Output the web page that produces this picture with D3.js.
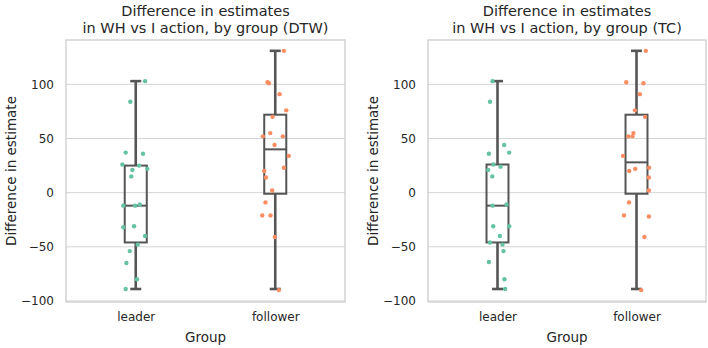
<!DOCTYPE html>
<html><head><meta charset="utf-8">
<script src="https://cdn.jsdelivr.net/npm/d3@7"></script>
<style>body{margin:0;background:#fff}svg{display:block}text{font-family:"DejaVu Sans",sans-serif;fill:#262626}</style>
</head><body><svg id="c" width="708" height="348"></svg>
<script>
const groups = ["leader", "follower"];
const titles = ["Difference in estimates\nin WH vs I action, by group (DTW)", "Difference in estimates\nin WH vs I action, by group (TC)"];
const yLabel = "Difference in estimate";
const xLabel = "Group";
const yTicks = [-100, -50, 0, 50, 100];

const dtwLeader = [103, 84, 37, 36, 26, 25, 22, 21, 15, -12, -12, -11, -32, -31, -40, -48, -54, -65, -80, -89];
const dtwLeaderJitter = [0.067,-0.039,-0.072,0.052,-0.096,0.024,0.083,-0.024,-0.032,-0.089,-0.005,0.029,-0.089,-0.012,0.067,0.014,-0.043,-0.067,0.009,-0.072];
const dtwFollower = [131, 102, 101, 91, 76, 70, 55, 52, 52, 44, 34, 23, 20, 14, 2, -9, -21, -21, -41, -90];
const dtwFollowerJitter = [0.062,-0.055,-0.045,0.031,0.079,-0.019,-0.036,-0.089,0.054,-0.005,0.097,0.062,-0.079,-0.067,-0.022,-0.070,-0.093,-0.034,-0.003,0.026];
const tcLeader = [103, 84, 44, 36, 37, 26, 24, 21, 15, -12, -11, -31, -31, -40, -46, -48, -54, -64, -80, -89];
const tcLeaderJitter = [-0.036,-0.054,0.048,-0.062,0.084,-0.029,0.022,-0.067,-0.038,-0.036,0.065,-0.031,0.084,0.017,-0.054,0.036,0.043,-0.062,0.050,0.055];
const tcFollower = [131, 102, 101, 91, 76, 70, 55, 52, 52, 34, 23, 22, 20, 14, 2, -9, -21, -22, -41, -90];
const tcFollowerJitter = [0.067,-0.074,0.050,0.024,-0.011,0.062,-0.022,-0.059,-0.029,-0.097,0.091,-0.009,-0.052,0.089,0.089,-0.054,-0.090,0.089,0.057,0.034];

// box stats: [whisker low, q1, median, q3, whisker high]
const dtwLeaderBox = [-89, -46, -12, 25, 103];
const dtwFollowerBox = [-89, -1, 40, 72, 131];
const tcLeaderBox = [-89, -46, -12, 26, 103];
const tcFollowerBox = [-89, -1, 28, 72, 131];

const colors = ["#66c2a5", "#fc8d62"];

const panels = [
  {title: titles[0], vals: [dtwLeader, dtwFollower], jit: [dtwLeaderJitter, dtwFollowerJitter], box: [dtwLeaderBox, dtwFollowerBox], x0: 66, x1: 345, labX: 11},
  {title: titles[1], vals: [tcLeader, tcFollower], jit: [tcLeaderJitter, tcFollowerJitter], box: [tcLeaderBox, tcFollowerBox], x0: 428, x1: 706, labX: 373}
];

const svg = d3.select("#c");
const plotTop = 40, plotBottom = 302;
const y = d3.scaleLinear().domain([-101, 141]).range([plotBottom, plotTop]);
const lineCol = "#555555";

panels.forEach(p => {
  const g = svg.append("g");
  const x = d3.scalePoint().domain(groups).range([p.x0, p.x1]).padding(0.5);
  const step = x.step();
  // grid
  g.selectAll(".grid").data(yTicks).join("line")
    .attr("x1", p.x0).attr("x2", p.x1).attr("y1", d => y(d)).attr("y2", d => y(d))
    .attr("stroke", "#d5d5d5").attr("stroke-width", 1);
  // y tick labels
  const ya = d3.axisLeft(y).tickValues(yTicks).tickSize(0).tickPadding(12).tickFormat(d => d < 0 ? "\u2212" + Math.abs(d) : d);
  const yg = g.append("g").attr("transform", `translate(${p.x0},0)`).call(ya);
  yg.select(".domain").remove();
  yg.selectAll("text").attr("font-size", 12).style("fill", "#262626");
  // x tick labels
  const xa = d3.axisBottom(x).tickSize(0).tickPadding(10);
  const xg = g.append("g").attr("transform", `translate(0,${plotBottom})`).call(xa);
  xg.select(".domain").remove();
  xg.selectAll("text").attr("font-size", 12).style("fill", "#262626");
  // boxes
  const bw = step * 0.158;
  groups.forEach((grp, i) => {
    const b = p.box[i];
    const cx = x(grp);
    g.append("line").attr("x1", cx).attr("x2", cx).attr("y1", y(b[0])).attr("y2", y(b[1])).attr("stroke", lineCol).attr("stroke-width", 2.6);
    g.append("line").attr("x1", cx).attr("x2", cx).attr("y1", y(b[3])).attr("y2", y(b[4])).attr("stroke", lineCol).attr("stroke-width", 2.6);
    [b[0], b[4]].forEach(v => g.append("line").attr("x1", cx - bw / 4).attr("x2", cx + bw / 4).attr("y1", y(v)).attr("y2", y(v)).attr("stroke", lineCol).attr("stroke-width", 2.6));
    g.append("rect").attr("x", cx - bw / 2).attr("width", bw).attr("y", y(b[3])).attr("height", y(b[1]) - y(b[3]))
      .attr("fill", "none").attr("stroke", lineCol).attr("stroke-width", 2);
    g.append("line").attr("x1", cx - bw / 2).attr("x2", cx + bw / 2).attr("y1", y(b[2])).attr("y2", y(b[2])).attr("stroke", lineCol).attr("stroke-width", 2);
  });
  // points
  groups.forEach((grp, i) => {
    g.selectAll(null).data(p.vals[i].map((v, k) => ({v, j: p.jit[i][k]}))).join("circle")
      .attr("cx", d => x(grp) + d.j * step).attr("cy", d => y(d.v)).attr("r", 2.2).attr("fill", colors[i]);
  });
  // frame
  g.append("rect").attr("x", p.x0).attr("y", plotTop).attr("width", p.x1 - p.x0).attr("height", plotBottom - plotTop)
    .attr("fill", "none").attr("stroke", "#cccccc").attr("stroke-width", 1.3);
  // title
  const t = g.append("text").attr("text-anchor", "middle").attr("font-size", 14.5);
  p.title.split("\n").forEach((line, k) => t.append("tspan").attr("x", (p.x0 + p.x1) / 2).attr("y", 15.5 + k * 17).text(line));
  // axis labels
  g.append("text").attr("text-anchor", "middle").attr("font-size", 13.5).attr("x", (p.x0 + p.x1) / 2).attr("y", 342).text(xLabel);
  g.append("text").attr("text-anchor", "middle").attr("font-size", 13.5)
    .attr("transform", `translate(${p.labX + 5},${(plotTop + plotBottom) / 2}) rotate(-90)`).text(yLabel);
});
</script></body></html>
